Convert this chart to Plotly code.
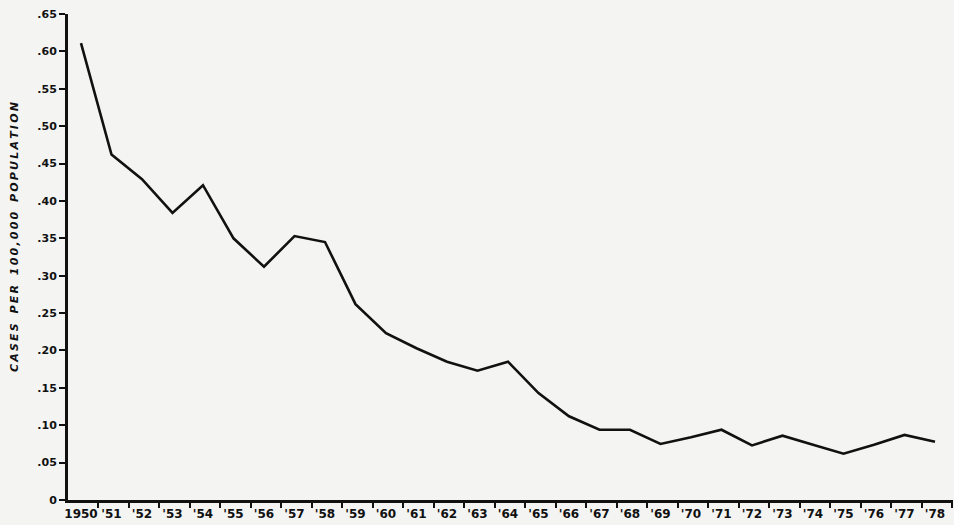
import plotly.graph_objects as go

# typhoid fever rate, cases per 100,000 population
years = list(range(1950, 1979))
rates = [0.611, 0.462, 0.429, 0.384, 0.421, 0.350, 0.312, 0.353, 0.345, 0.262,
         0.223, 0.203, 0.185, 0.173, 0.185, 0.143, 0.112, 0.094, 0.094, 0.075,
         0.084, 0.094, 0.073, 0.086, 0.074, 0.062, 0.074, 0.087, 0.078]
x_labels = ["1950"] + [f"'{y % 100:02d}" for y in years[1:]]
y_ticks = [0, 0.05, 0.10, 0.15, 0.20, 0.25, 0.30, 0.35, 0.40, 0.45, 0.50, 0.55, 0.60, 0.65]
y_labels = ["0"] + [f".{round(v * 100):02d}" for v in y_ticks[1:]]
y_title = "CASES PER 100,000 POPULATION"

# spread the letters out like the original hand-lettered axis title
spaced = "\u2009".join(y_title).replace("\u2009 \u2009", "\u2009\u2002\u2009")

# in the original the tick marks sit between the year labels, not under them
tick_marks = [y + 0.56 for y in years]
x_range = [1949.574, 1978.59]

fig = go.Figure()
fig.add_trace(go.Scatter(x=years, y=rates, mode="lines",
                         line=dict(color="#111111", width=2.6), hoverinfo="skip"))
# invisible copy on the overlaid axis that carries the tick marks
fig.add_trace(go.Scatter(x=years, y=rates, mode="lines", xaxis="x2",
                         line=dict(color="rgba(0,0,0,0)", width=0), hoverinfo="skip"))

font_y = dict(family="DejaVu Sans", size=11, color="#111111", weight="bold")
font_x = dict(family="DejaVu Sans", size=12, color="#111111", weight="bold")
fig.update_layout(
    width=954, height=525, showlegend=False,
    paper_bgcolor="#f4f4f3", plot_bgcolor="#f4f4f3",
    margin=dict(l=68, r=1, t=14, b=25),
    xaxis=dict(range=x_range, tickvals=years, ticktext=x_labels,
               showgrid=False, zeroline=False, showline=True, linewidth=3, linecolor="#111111",
               ticks="", tickfont=font_x, ticklabeloverflow="allow", ticklabelstandoff=1),
    xaxis2=dict(range=x_range, overlaying="x", anchor="y", side="bottom",
                tickvals=tick_marks, showticklabels=False, showgrid=False, zeroline=False,
                showline=False, ticks="outside", ticklen=7, tickwidth=2, tickcolor="#111111"),
    yaxis=dict(range=[0, 0.65], tickvals=y_ticks, ticktext=y_labels,
               showgrid=False, zeroline=False, showline=True, linewidth=3, linecolor="#111111",
               ticks="outside", ticklen=6, tickwidth=2, tickcolor="#111111",
               tickfont=font_y),
)
fig.add_annotation(text=spaced, xref="paper", yref="paper", x=-0.061, y=0.541,
                   textangle=-90, showarrow=False, xanchor="center", yanchor="middle",
                   font=dict(family="DejaVu Sans", size=11, color="#111111",
                             weight="bold", style="italic"))

fig.write_html("out.html", config={"displayModeBar": False},
               post_script="document.body.style.margin='0';")
